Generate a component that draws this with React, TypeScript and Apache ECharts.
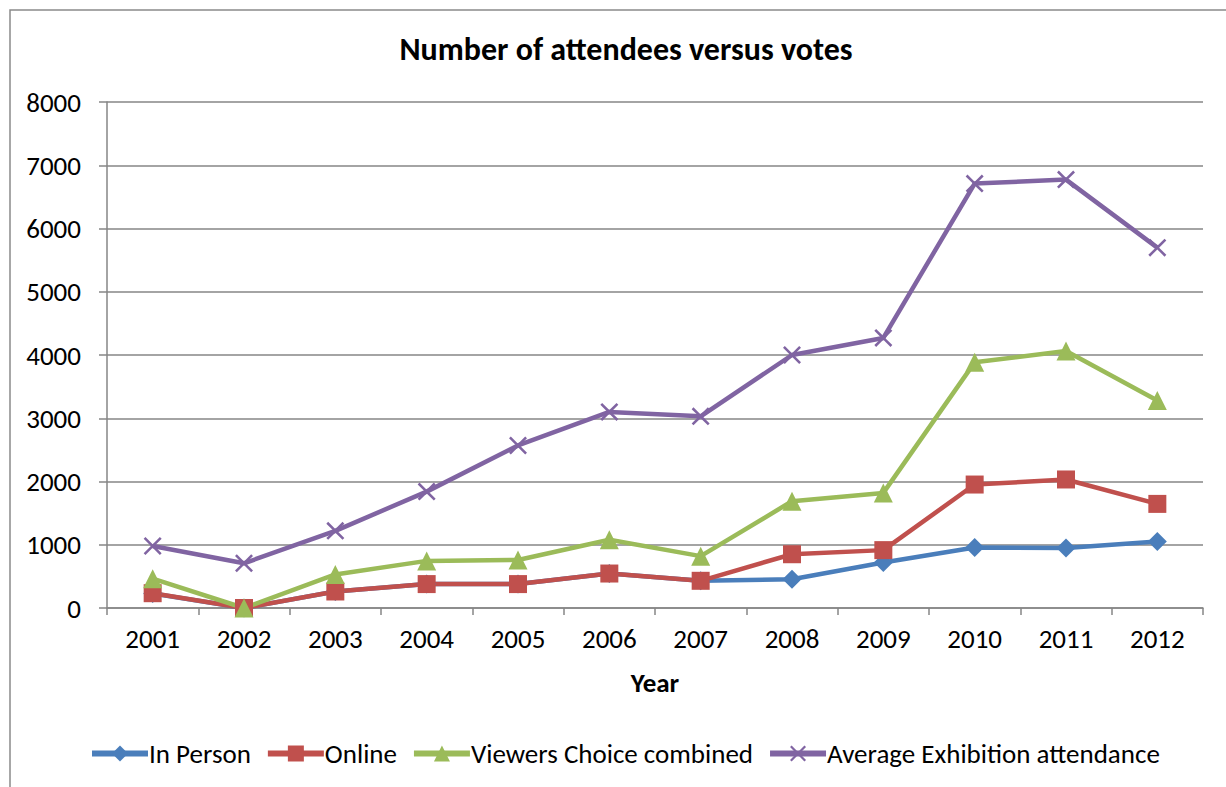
import React, { useEffect, useRef } from "react";
import * as echarts from "echarts";

const years = ["2001", "2002", "2003", "2004", "2005", "2006", "2007", "2008", "2009", "2010", "2011", "2012"];
const inPerson = [230, 0, 260, 378, 378, 545, 430, 455, 720, 958, 947, 1053];
const online = [234, 0, 261, 378, 378, 545, 430, 850, 915, 1952, 2032, 1646];
const viewersChoice = [463, 0, 530, 745, 760, 1079, 820, 1688, 1820, 3884, 4063, 3282];
const avgAttendance = [980, 707, 1220, 1840, 2570, 3100, 3030, 4000, 4270, 6710, 6773, 5697];

const FONT = "Carlito, Lato, sans-serif";
const X_SYMBOL = "path://M1,0 L5,4 L9,0 L10,1 L6,5 L10,9 L9,10 L5,6 L1,10 L0,9 L4,5 L0,1 Z";

export default function App() {
  const ref = useRef<HTMLDivElement>(null);
  useEffect(() => {
    if (!ref.current) return;
    const chart = echarts.init(ref.current, null, { renderer: "svg" });
    const mk = (name: string, data: number[], color: string, symbol: string, size: number) => ({
      name,
      type: "line",
      data,
      symbol,
      symbolSize: size,
      showAllSymbol: true,
      lineStyle: { color, width: 4.5 },
      itemStyle: { color },
      emphasis: { disabled: true },
    });
    chart.setOption({
      animation: false,
      textStyle: { fontFamily: FONT },
      title: {
        text: "Number of attendees versus votes",
        left: 621,
        textAlign: "center",
        top: 28,
        textStyle: { fontFamily: FONT, fontSize: 32, fontWeight: "bold", color: "#000" },
      },
      graphic: [
        {
          type: "rect",
          shape: { x: 10, y: 10, width: 1400, height: 1000 },
          style: { fill: "none", stroke: "#8a8a8a", lineWidth: 1.5 },
          silent: true,
        },
      ],
      legend: {
        left: 84,
        top: 735,
        itemWidth: 56,
        itemHeight: 20,
        itemGap: 14,
        lineStyle: { width: 6 },
        textStyle: { fontFamily: FONT, fontSize: 27, color: "#000", padding: [0, 0, 0, -4] },
        data: ["In Person", "Online", "Viewers Choice combined", "Average Exhibition attendance"],
      },
      grid: { left: 107, right: 23, top: 102, bottom: 179 },
      xAxis: {
        type: "category",
        data: years,
        boundaryGap: true,
        name: "Year",
        nameLocation: "middle",
        nameGap: 61,
        nameTextStyle: { fontFamily: FONT, fontSize: 27, fontWeight: "bold", color: "#000" },
        axisLine: { lineStyle: { color: "#868686", width: 1.5 } },
        axisTick: { show: true, length: 7, lineStyle: { color: "#868686", width: 1.5 } },
        axisLabel: { fontFamily: FONT, fontSize: 27, color: "#000", margin: 17 },
      },
      yAxis: {
        type: "value",
        min: 0,
        max: 8000,
        interval: 1000,
        axisLine: { show: true, lineStyle: { color: "#868686", width: 1.5 } },
        axisTick: { show: true, length: 8, lineStyle: { color: "#868686", width: 1.5 } },
        axisLabel: { fontFamily: FONT, fontSize: 27, color: "#000", margin: 26, formatter: (v: number) => String(v) },
        splitLine: { lineStyle: { color: "#868686", width: 1.5 } },
      },
      series: [
        mk("In Person", inPerson, "#4A7EBB", "diamond", 19),
        mk("Online", online, "#C0504D", "rect", 18),
        mk("Viewers Choice combined", viewersChoice, "#9BBB59", "triangle", 19),
        mk("Average Exhibition attendance", avgAttendance, "#8064A2", X_SYMBOL, 18),
      ],
    });
    return () => chart.dispose();
  }, []);
  return (
    <div
      ref={ref}
      style={{ position: "absolute", left: 0, top: 0, width: 1226, height: 787, background: "#fff" }}
    />
  );
}
